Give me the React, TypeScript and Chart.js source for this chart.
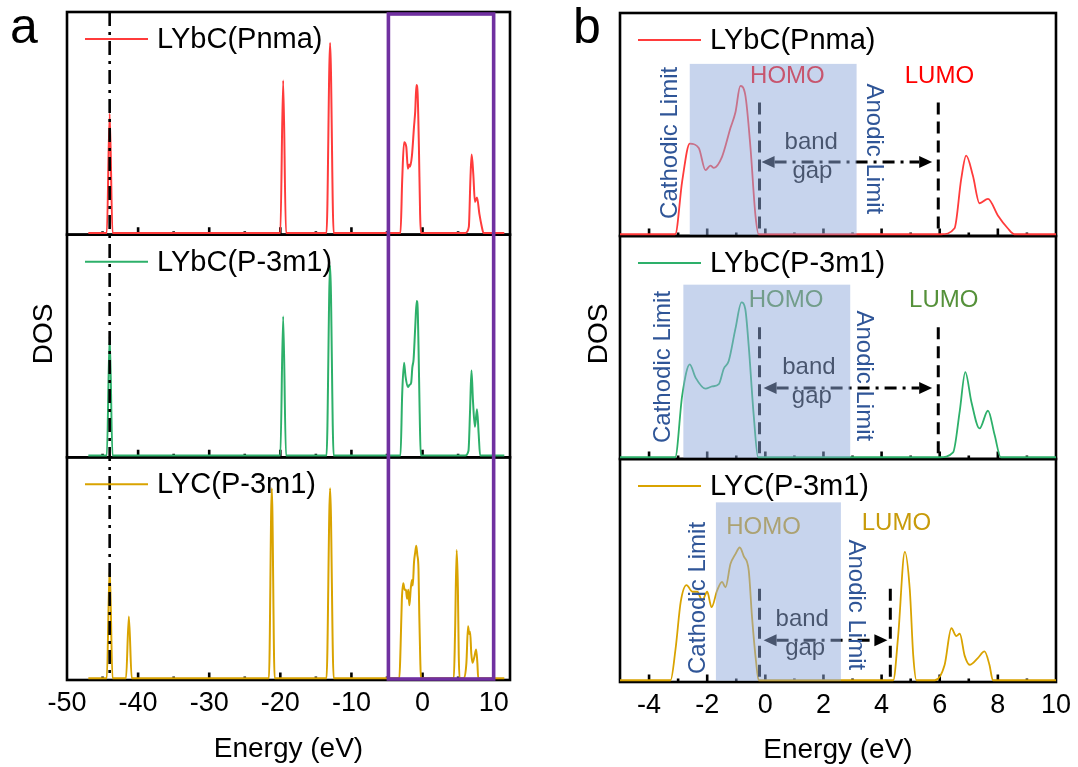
import React, { useEffect, useRef } from "react";
import { Chart, registerables } from "chart.js";

Chart.register(...registerables);

const FONT = '"Liberation Sans", Arial, Helvetica, sans-serif';

// ---------- data ----------
const SERIES_LABELS = ["LYbC(Pnma)", "LYbC(P-3m1)", "LYC(P-3m1)"];
const SERIES_COLORS = ["#FF3B3B", "#2DB06A", "#D9A300"];

// Energy (eV) / DOS (arb. units, panel height = 1)
const E_LYBC_PNMA = [-47, -44.4, -44.0, -43.6, -20.0, -19.6, -19.2, -13.5, -13.0, -12.5, -3.1, -2.86, -2.6, -2.29, -2.06, -1.89, -1.77, -1.49, -1.2, -1.03, -0.86, -0.69, -0.51, -0.34, -0.23, 6.05, 6.51, 6.74, 6.91, 7.14, 7.37, 7.66, 8.0, 8.34, 8.57, 11.5];
const DOS_LYBC_PNMA = [0, 0, 0.54, 0, 0, 0.69, 0, 0, 0.86, 0, 0, 0.24, 0.41, 0.39, 0.29, 0.31, 0.30, 0.35, 0.48, 0.55, 0.67, 0.63, 0.39, 0.085, 0, 0, 0.027, 0.25, 0.355, 0.265, 0.14, 0.16, 0.085, 0.027, 0, 0];

const E_LYBC_P3M1 = [-47, -44.4, -44.0, -43.6, -20.0, -19.6, -19.2, -13.5, -13.0, -12.5, -3.1, -2.86, -2.6, -2.4, -2.06, -1.83, -1.6, -1.43, -1.26, -1.03, -0.82, -0.69, -0.57, -0.4, -0.25, 6.0, 6.46, 6.69, 6.88, 7.09, 7.37, 7.66, 7.89, 8.1, 11.5];
const DOS_LYBC_P3M1 = [0, 0, 0.54, 0, 0, 0.63, 0, 0, 0.86, 0, 0, 0.28, 0.42, 0.36, 0.31, 0.32, 0.33, 0.40, 0.435, 0.58, 0.70, 0.67, 0.50, 0.19, 0, 0, 0.022, 0.21, 0.385, 0.25, 0.13, 0.21, 0.10, 0, 0];

const E_LYC_P3M1 = [-47, -44.4, -44.0, -43.6, -41.7, -41.3, -40.9, -21.6, -21.2, -20.8, -13.5, -13.0, -12.5, -3.26, -3.09, -2.91, -2.71, -2.51, -2.34, -2.17, -2.0, -1.85, -1.66, -1.49, -1.37, -1.2, -1.03, -0.88, -0.74, -0.57, -0.46, -0.32, -0.23, 4.4, 4.57, 4.8, 4.97, 5.09, 5.2, 5.83, 6.17, 6.4, 6.57, 6.69, 6.86, 7.03, 7.31, 7.54, 7.71, 7.83, 11.5];
const DOS_LYC_P3M1 = [0, 0, 0.50, 0, 0, 0.28, 0, 0, 0.86, 0, 0, 0.86, 0, 0, 0.14, 0.355, 0.43, 0.40, 0.40, 0.36, 0.40, 0.33, 0.405, 0.445, 0.42, 0.525, 0.57, 0.60, 0.56, 0.495, 0.29, 0.085, 0, 0, 0.20, 0.58, 0.41, 0.11, 0, 0, 0.07, 0.235, 0.20, 0.21, 0.11, 0.07, 0.10, 0.13, 0.07, 0, 0];

const A_TICK_LABELS = [-50, -40, -30, -20, -10, 0, 10];
const A_MAJOR = [-40, -30, -20, -10, 0, 10];
const A_MINOR = [-45, -35, -25, -15, -5, 5];
const B_TICK_LABELS = [-4, -2, 0, 2, 4, 6, 8, 10];
const B_MAJOR = [-4, -2, 0, 2, 4, 6, 8];
const B_MINOR = [-3, -1, 1, 3, 5, 7, 9];

const CORE_LEVEL_E = -44;
const WINDOW_E = [-4.8, 10.0];

const HOMO_E = [-0.2, -0.2, -0.2];
const LUMO_E = [5.95, 5.95, 4.3];
const STABLE_LO = [-2.6, -2.82, -1.7];
const STABLE_HI = [3.14, 2.92, 2.6];

// ---------- annotation layout for panel b ----------
const B_NOTES = [
  { rectTop: 0.77, homo: [0.76, 0.713], lumo: [5.99, 0.713], dashTop: 0.596, arrowY: 0.326, arrow: [-0.13, 5.74], band: [1.58, 0.413], gap: [1.62, 0.283], cath: [-3.26, 0.413], anod: [3.74, 0.386], homoColor: "#FF0000", lumoColor: "#FF0000" },
  { rectTop: 0.78, homo: [0.71, 0.708], lumo: [6.14, 0.708], dashTop: 0.587, arrowY: 0.313, arrow: [-0.06, 5.74], band: [1.5, 0.404], gap: [1.6, 0.274], cath: [-3.5, 0.408], anod: [3.38, 0.368], homoColor: "#55913A", lumoColor: "#55913A" },
  { rectTop: 0.804, homo: [-0.06, 0.691], lumo: [4.51, 0.709], dashTop: 0.413, arrowY: 0.181, arrow: [-0.06, 4.2], band: [1.27, 0.274], gap: [1.37, 0.143], cath: [-2.31, 0.372], anod: [3.11, 0.341], homoColor: "#C89B0A", lumoColor: "#C89B0A" },
];

const Y_IDS = ["y1", "y2", "y3"];
const SERIES = [
  { e: E_LYBC_PNMA, d: DOS_LYBC_PNMA },
  { e: E_LYBC_P3M1, d: DOS_LYBC_P3M1 },
  { e: E_LYC_P3M1, d: DOS_LYC_P3M1 },
];

function buildDatasets(width: number) {
  return SERIES.map((s, i) => ({
    label: SERIES_LABELS[i],
    data: s.e.map((x, k) => ({ x, y: s.d[k] })),
    borderColor: SERIES_COLORS[i],
    backgroundColor: SERIES_COLORS[i],
    borderWidth: width,
    pointRadius: 0,
    fill: false,
    cubicInterpolationMode: "monotone" as const,
    yAxisID: Y_IDS[i],
  }));
}

function yScales() {
  const o: any = {};
  Y_IDS.forEach((id) => {
    o[id] = { type: "linear", display: false, position: "right", stack: "dos", stackWeight: 1, min: -0.008, max: 1 };
  });
  return o;
}

function xScale(min: number, max: number, labels: number[], titlePadTop: number) {
  return {
    type: "linear",
    min,
    max,
    afterBuildTicks: (scale: any) => {
      scale.ticks = labels.map((v) => ({ value: v }));
    },
    ticks: {
      autoSkip: false,
      maxRotation: 0,
      padding: 7,
      color: "#000",
      font: { family: FONT, size: 27 },
      callback: (v: any) => String(v),
    },
    grid: { display: false, drawTicks: false },
    border: { display: false },
    title: { display: true, text: "Energy (eV)", color: "#000", font: { family: FONT, size: 28 }, padding: { top: titlePadTop, bottom: 0 } },
  };
}

function txt(ctx: CanvasRenderingContext2D, s: string, x: number, y: number, size: number, color: string, rot = 0, align: CanvasTextAlign = "center", baseline: CanvasTextBaseline = "middle") {
  ctx.save();
  ctx.translate(x, y);
  ctx.rotate(rot);
  ctx.font = `${size}px ${FONT}`;
  ctx.fillStyle = color;
  ctx.textAlign = align;
  ctx.textBaseline = baseline;
  ctx.fillText(s, 0, 0);
  ctx.restore();
}

function drawFrames(chart: any, majors: number[], minors: number[]) {
  const ctx: CanvasRenderingContext2D = chart.ctx;
  const ca = chart.chartArea;
  const xs = chart.scales.x;
  ctx.save();
  ctx.setLineDash([]);
  ctx.strokeStyle = "#000";
  ctx.lineWidth = 2.6;
  for (const id of Y_IDS) {
    const s = chart.scales[id];
    ctx.strokeRect(ca.left, s.top, ca.right - ca.left, s.bottom - s.top);
    ctx.beginPath();
    for (const v of majors) {
      const px = xs.getPixelForValue(v);
      ctx.moveTo(px, s.bottom);
      ctx.lineTo(px, s.bottom - 7.5);
    }
    for (const v of minors) {
      const px = xs.getPixelForValue(v);
      ctx.moveTo(px, s.bottom);
      ctx.lineTo(px, s.bottom - 3.5);
    }
    ctx.stroke();
  }
  ctx.restore();
}

function drawLegends(chart: any, textOffset: number) {
  const ctx: CanvasRenderingContext2D = chart.ctx;
  const ca = chart.chartArea;
  Y_IDS.forEach((id, i) => {
    const s = chart.scales[id];
    const y = s.top + 27;
    ctx.save();
    ctx.setLineDash([]);
    ctx.strokeStyle = SERIES_COLORS[i];
    ctx.lineWidth = 2;
    ctx.beginPath();
    ctx.moveTo(ca.left + 18, y);
    ctx.lineTo(ca.left + 81, y);
    ctx.stroke();
    ctx.restore();
    txt(ctx, SERIES_LABELS[i], ca.left + textOffset, y + 1, 29, "#000", 0, "left");
  });
}

const panelAPlugin = {
  id: "panelA",
  beforeDatasetsDraw(chart: any) {
    drawFrames(chart, A_MAJOR, A_MINOR);
  },
  afterDatasetsDraw(chart: any) {
    const ctx: CanvasRenderingContext2D = chart.ctx;
    const ca = chart.chartArea;
    const xs = chart.scales.x;
    ctx.save();
    ctx.strokeStyle = "#000";
    ctx.lineWidth = 2.6;
    ctx.setLineDash([14, 6, 3, 6]);
    const px = xs.getPixelForValue(CORE_LEVEL_E);
    ctx.beginPath();
    ctx.moveTo(px, ca.top);
    ctx.lineTo(px, ca.bottom);
    ctx.stroke();
    ctx.setLineDash([]);
    ctx.strokeStyle = "#7030A0";
    ctx.lineWidth = 3.6;
    const x1 = xs.getPixelForValue(WINDOW_E[0]);
    const x2 = xs.getPixelForValue(WINDOW_E[1]);
    ctx.strokeRect(x1, ca.top + 2, x2 - x1, ca.bottom - ca.top - 3);
    ctx.restore();
    drawLegends(chart, 90);
    txt(ctx, "a", 10, 43, 50, "#000", 0, "left", "alphabetic");
    txt(ctx, "DOS", 44, 334, 28, "#000", -Math.PI / 2);
  },
};

const panelBPlugin = {
  id: "panelB",
  beforeDatasetsDraw(chart: any) {
    drawFrames(chart, B_MAJOR, B_MINOR);
  },
  afterDatasetsDraw(chart: any) {
    const ctx: CanvasRenderingContext2D = chart.ctx;
    const xs = chart.scales.x;
    Y_IDS.forEach((id, i) => {
      const s = chart.scales[id];
      const n = B_NOTES[i];
      const X = (v: number) => xs.getPixelForValue(v);
      const Y = (v: number) => s.getPixelForValue(v);
      txt(ctx, "HOMO", X(n.homo[0]), Y(n.homo[1]), 24, n.homoColor);
      txt(ctx, "LUMO", X(n.lumo[0]), Y(n.lumo[1]), 24, n.lumoColor);
      ctx.save();
      ctx.strokeStyle = "#000";
      ctx.lineWidth = 3;
      ctx.setLineDash([12, 7]);
      ctx.beginPath();
      for (const e of [HOMO_E[i], LUMO_E[i]]) {
        ctx.moveTo(X(e), Y(n.dashTop));
        ctx.lineTo(X(e), s.bottom - 2);
      }
      ctx.stroke();
      const ay = Y(n.arrowY);
      const ax1 = X(n.arrow[0]);
      const ax2 = X(n.arrow[1]);
      const hl = 13;
      ctx.setLineDash([12, 6, 3, 6]);
      ctx.lineWidth = 3;
      ctx.beginPath();
      ctx.moveTo(ax1 + hl, ay);
      ctx.lineTo(ax2 - hl, ay);
      ctx.stroke();
      ctx.setLineDash([]);
      ctx.fillStyle = "#000";
      ctx.beginPath();
      ctx.moveTo(ax1, ay);
      ctx.lineTo(ax1 + hl, ay - 6);
      ctx.lineTo(ax1 + hl, ay + 6);
      ctx.closePath();
      ctx.fill();
      ctx.beginPath();
      ctx.moveTo(ax2, ay);
      ctx.lineTo(ax2 - hl, ay - 6);
      ctx.lineTo(ax2 - hl, ay + 6);
      ctx.closePath();
      ctx.fill();
      ctx.restore();
      txt(ctx, "band", X(n.band[0]), Y(n.band[1]), 24, "#000");
      txt(ctx, "gap", X(n.gap[0]), Y(n.gap[1]), 24, "#000");
      ctx.save();
      ctx.fillStyle = "rgba(143,170,220,0.5)";
      const rx1 = X(STABLE_LO[i]);
      const rx2 = X(STABLE_HI[i]);
      const ry = Y(n.rectTop);
      ctx.fillRect(rx1, ry, rx2 - rx1, s.bottom - 1.3 - ry);
      ctx.restore();
      txt(ctx, "Cathodic Limit", X(n.cath[0]), Y(n.cath[1]), 24, "#2F5597", -Math.PI / 2);
      txt(ctx, "Anodic Limit", X(n.anod[0]), Y(n.anod[1]), 24, "#2F5597", Math.PI / 2);
    });
    drawLegends(chart, 90);
    txt(ctx, "b", 13, 43, 50, "#000", 0, "left", "alphabetic");
    txt(ctx, "DOS", 39, 334, 28, "#000", -Math.PI / 2);
  },
};

function configA(): any {
  return {
    type: "line",
    data: { datasets: buildDatasets(2) },
    options: {
      animation: false,
      responsive: false,
      devicePixelRatio: 1,
      layout: { padding: { left: 67, right: 50, top: 12, bottom: 1 } },
      plugins: { legend: { display: false }, tooltip: { enabled: false } },
      scales: { x: xScale(-50, 12.3, A_TICK_LABELS, 6), ...yScales() },
    },
    plugins: [panelAPlugin],
  };
}

function configB(): any {
  return {
    type: "line",
    data: { datasets: buildDatasets(1.8) },
    options: {
      animation: false,
      responsive: false,
      devicePixelRatio: 1,
      layout: { padding: { left: 60, right: 18, top: 13, bottom: 0 } },
      plugins: { legend: { display: false }, tooltip: { enabled: false } },
      scales: { x: xScale(-5, 10, B_TICK_LABELS, 5), ...yScales() },
    },
    plugins: [panelBPlugin],
  };
}

export default function App() {
  const aRef = useRef<HTMLCanvasElement>(null);
  const bRef = useRef<HTMLCanvasElement>(null);
  useEffect(() => {
    const ca = new Chart(aRef.current as HTMLCanvasElement, configA());
    const cb = new Chart(bRef.current as HTMLCanvasElement, configB());
    return () => {
      ca.destroy();
      cb.destroy();
    };
  }, []);
  return (
    <div style={{ position: "absolute", left: 0, top: 0, width: 1078, height: 767, background: "#fff", overflow: "hidden" }}>
      <canvas ref={aRef} width={560} height={767} style={{ position: "absolute", left: 0, top: 0, width: 560, height: 767 }} />
      <canvas ref={bRef} width={518} height={767} style={{ position: "absolute", left: 560, top: 0, width: 518, height: 767 }} />
    </div>
  );
}
